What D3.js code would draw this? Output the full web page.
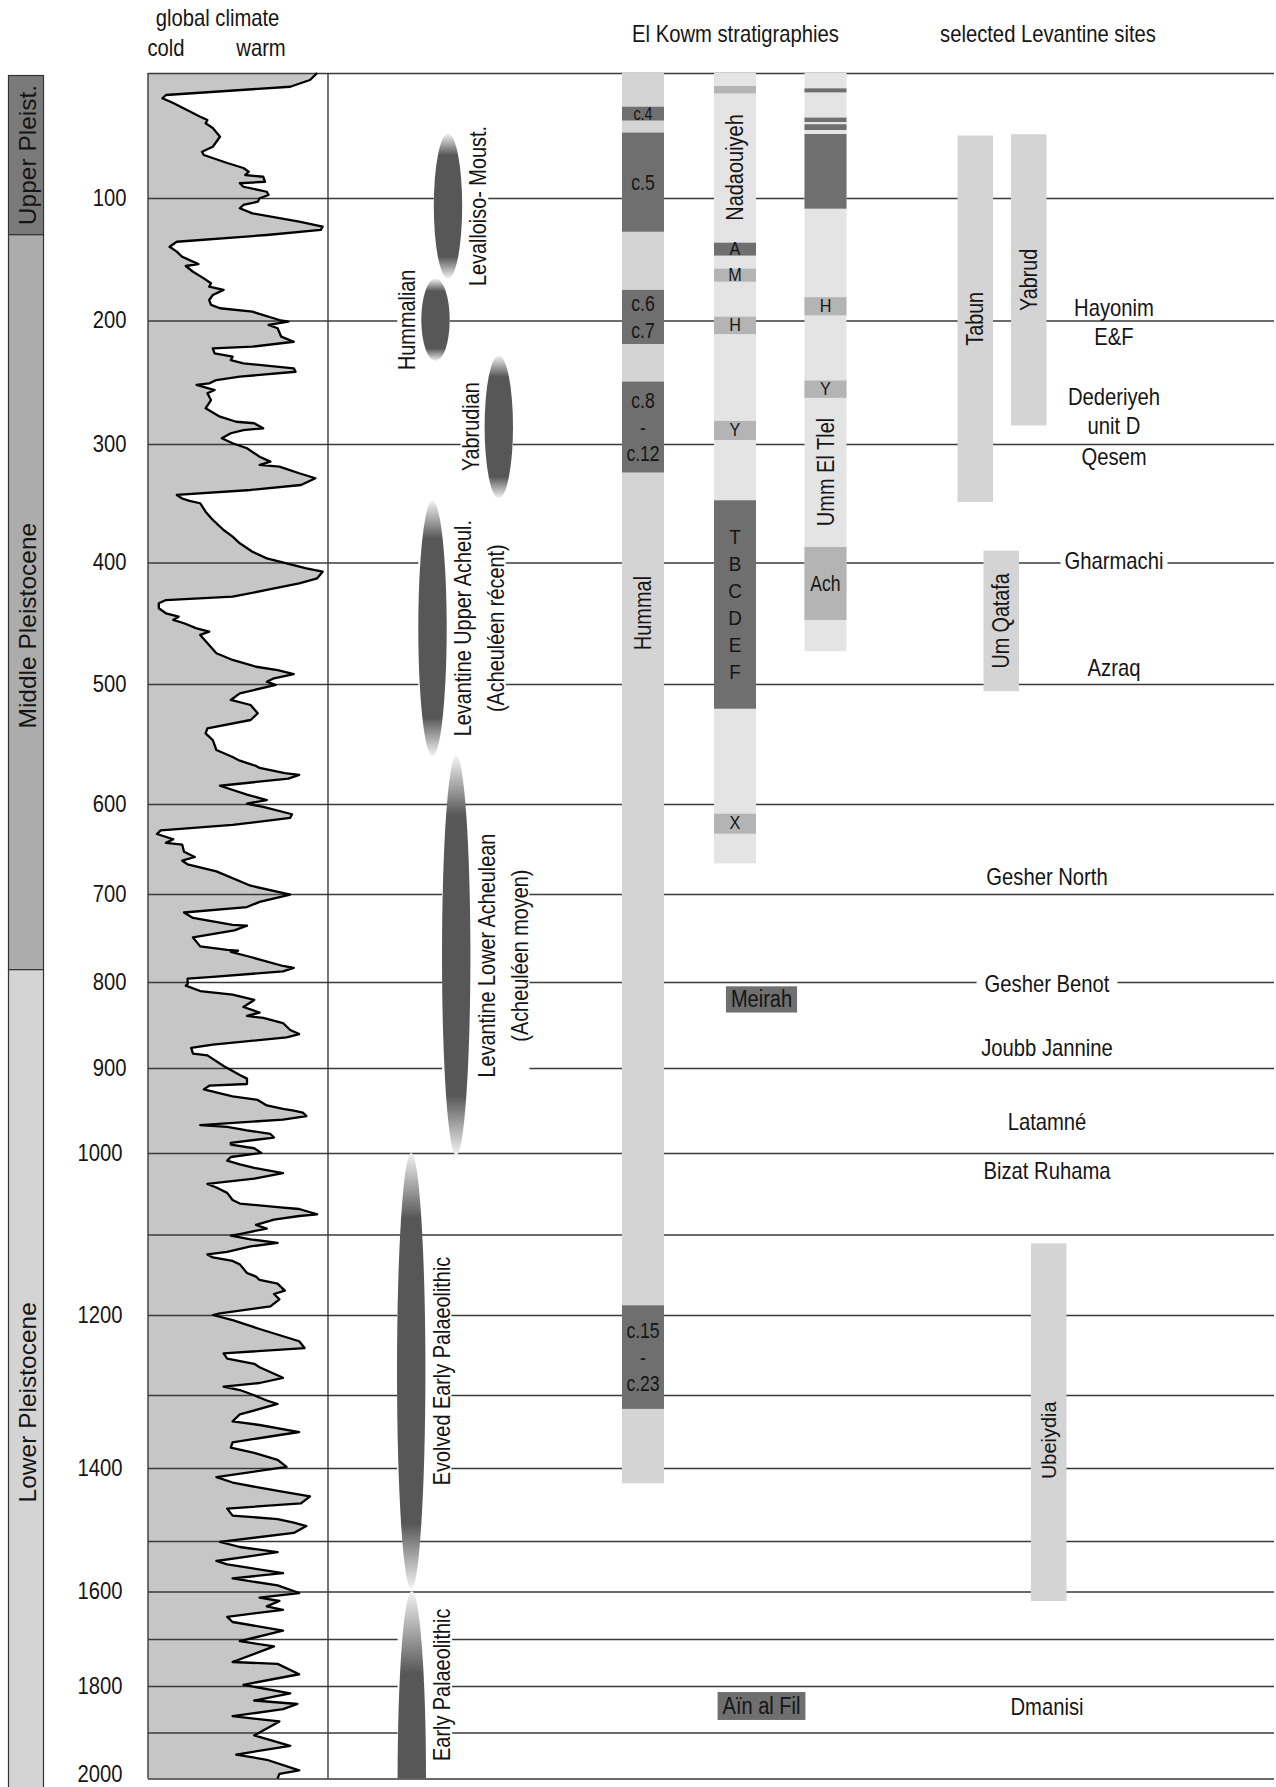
<!DOCTYPE html>
<html><head><meta charset="utf-8">
<script src="https://cdn.jsdelivr.net/npm/d3@7"></script>
<style>
body{margin:0;background:#fff}
svg{display:block;font-family:"Liberation Sans",Arial,sans-serif}
</style></head><body>
<svg id="chart" width="1276" height="1787"></svg>
<script>
// ================= DATA =================
const ageGrid = d3.range(0, 2001, 100);               // ka
const ageTickLabels = [100,200,300,400,500,600,700,800,900,1000,1200,1400,1600,1800,2000];

const headers = ["global climate", "cold", "warm", "El Kowm stratigraphies", "selected Levantine sites"];

const epochs = [
  {name: "Upper Pleist.",      from: 2,   to: 130,  labelAt: 65.6},
  {name: "Middle Pleistocene", from: 130, to: 786,  labelAt: 452},
  {name: "Lower Pleistocene",  from: 786, to: 2020, labelAt: 1310}
];

// [age ka, climate index 0=cold .. 100=warm]
const climateSeries = [
[0,94],[5.6,90],[11,79],[17.6,10],[20.2,8],[24,14],[35,29],[37.6,33],[40.2,32],[44,36],[51,40],[59,36],[63,30],[65.6,31],[72,44],[76,53],[79,56],[81.6,54],[83,64],[87,65],[88.2,51],[91,53],[95,66],[97.6,67],[100.2,62],[103,61],[105.7,53],[108.4,51],[112.5,58],[119.3,84],[123.4,97],[126,96],[130.2,66],[135.7,16],[139.8,12],[143.8,16],[148,19],[154,28],[155.5,21],[160.2,25],[165.6,31],[169.6,35],[172.4,34],[175,42],[179.2,36],[183.3,34],[187.3,35],[190,40],[192.8,58],[199.6,73],[201,78],[203.6,67],[206.3,72],[213.1,74],[217.2,81],[221.2,58],[222.5,36],[226.6,37],[229.3,47],[232,46],[234.7,53],[238.7,81],[241.5,82],[245.5,51],[248.2,38],[250.9,34],[252.2,27],[256.3,37],[258.9,33],[264.4,35],[271.1,32],[277.9,40],[282,49],[283.2,59],[287.3,64],[288.7,53],[291.3,46],[295.4,41],[299.4,47],[303.6,55],[310.7,62],[314.9,68],[317.7,62],[319.1,73],[324.7,84],[328.9,93],[334.6,85],[338.8,57],[343,16],[346,19],[348,23],[350,29],[357.1,32],[364.1,36],[372.6,42],[378.2,47],[383.8,51],[390.9,58],[396.5,66],[400.7,77],[404.8,88],[407.6,97],[413,94],[417.1,84],[422.6,66],[428.1,47],[430.9,10],[433.6,6],[437.7,6],[441.8,10],[444.6,17],[447.3,14],[450,20],[454.2,27],[456.9,34],[459.6,29],[474.7,38],[480.2,47],[485.8,60],[488.5,72],[491.8,81],[495.3,70],[498.1,66],[500.8,71],[507.8,51],[513.3,46],[517.5,57],[524.4,61],[530,57],[536.9,33],[541.1,32],[546.7,36],[555,38],[560.8,47],[563.9,51],[568.3,60],[569.9,62],[574.3,76],[575.8,84],[578.8,78],[584.8,40],[592.2,55],[596.7,66],[599.7,55],[603.3,64],[611.4,80],[615.4,79],[623.3,47],[629.3,7],[633.3,5],[639.2,14],[643.2,10],[645.1,19],[653.1,20],[658.9,26],[663,19],[667,22],[674.9,38],[690.8,57],[700.7,79],[708.9,62],[714.8,55],[721,20],[727.2,25],[735.2,47],[736,55],[741.4,48],[749.4,25],[759.5,29],[763.6,44],[764.5,50],[765.7,46],[771.6,57],[781.8,75],[784,81],[788,75],[794.1,36],[796.1,22],[802.3,22],[804.3,21],[810.5,29],[814.7,47],[820.9,59],[829.1,53],[835.5,62],[839.5,55],[841.7,64],[847.7,75],[855.8,79],[860.5,84],[864.5,77],[872.8,36],[876.7,24],[883.3,25],[885.3,33],[897.7,42],[908.2,51],[912.5,55],[918.8,55],[920.8,34],[925.1,31],[933.4,47],[937.6,61],[944,66],[948.2,75],[950.2,81],[952.4,86],[956.5,88],[960.7,75],[967.1,29],[969.2,44],[973.4,55],[977.6,68],[981.8,70],[988.1,46],[990.1,46],[994.4,59],[999.9,63],[1004.9,46],[1009.4,44],[1013.9,51],[1018.3,59],[1024.8,75],[1031.4,59],[1038,33],[1042.3,38],[1048.9,44],[1057.6,47],[1062,51],[1066.3,72],[1068.7,84],[1075.2,94],[1077.3,84],[1081.7,70],[1088.3,60],[1092.8,66],[1099.4,51],[1101.5,46],[1106,57],[1110.4,72],[1114.8,57],[1121.5,44],[1124.8,33],[1128.4,36],[1132.9,47],[1137.1,51],[1147.8,55],[1152.3,60],[1156.5,62],[1161,72],[1169.7,76],[1173.9,70],[1180.5,73],[1189.2,68],[1197.9,40],[1200,36],[1206.5,47],[1217.5,62],[1232.8,84],[1241.3,87],[1248,42],[1254.5,44],[1261,59],[1265.4,62],[1278.5,75],[1285,62],[1289.4,42],[1293.8,51],[1300.3,59],[1307.5,66],[1312.3,72],[1326.6,51],[1336.2,47],[1341.1,62],[1350.7,84],[1364.8,47],[1372.1,46],[1379.2,59],[1388.8,72],[1398.4,77],[1412.6,38],[1419.9,47],[1427,62],[1431.8,73],[1438.9,90],[1448.5,85],[1455.6,44],[1465.2,47],[1469.9,72],[1474.8,81],[1479.5,88],[1489,81],[1501.6,40],[1511.9,51],[1522.2,72],[1539.6,38],[1546.3,44],[1563.8,75],[1574.1,47],[1588,72],[1603.2,84],[1612.8,62],[1620,73],[1631.2,66],[1638.5,75],[1653.3,44],[1664.2,47],[1682.5,75],[1704.7,51],[1715.7,70],[1748.9,47],[1753,72],[1775,84],[1797.4,53],[1816.1,79],[1831.2,59],[1838.7,83],[1849.9,75],[1864.9,47],[1876.1,73],[1906.3,59],[1928.9,79],[1948,49],[1959.3,66],[1982.2,84],[1989.8,73],[2000,72]
];

const industries = [
  {lines: ["Levalloiso- Moust."], from: 48.4, to: 165.8},
  {lines: ["Hummalian"], from: 165.8, to: 232.8},
  {lines: ["Yabrudian"], from: 228.3, to: 345.7},
  {lines: ["Levantine Upper Acheul.", "(Acheuléen récent)"], from: 347.6, to: 560},
  {lines: ["Levantine Lower Acheulean", "(Acheuléen moyen)"], from: 559.8, to: 1003},
  {lines: ["Evolved Early Palaeolithic"], from: 1000, to: 1595},
  {lines: ["Early Palaeolithic"], from: 1599, to: 2000, open: true}
];

const kowmColumns = [
  {name: "Hummal",      from: 0, to: 1421, labelAt: 441.6},
  {name: "Nadaouiyeh",  from: 0, to: 666,  labelAt: 75.6},
  {name: "Umm El Tlel", from: 0, to: 473,  labelAt: 323.6}
];

const kowmBands = [
  {col: "Hummal", from: 27,    to: 38,    tone: "dark", text: ["c.4"]},
  {col: "Hummal", from: 47.7,  to: 127.5, tone: "dark", text: ["c.5"]},
  {col: "Hummal", from: 175,   to: 219,   tone: "dark", text: ["c.6", "c.7"]},
  {col: "Hummal", from: 249.5, to: 324,   tone: "dark", text: ["c.8", "-", "c.12"]},
  {col: "Hummal", from: 1188,  to: 1319,  tone: "dark", text: ["c.15", "-", "c.23"]},
  {col: "Nadaouiyeh", from: 10.4,  to: 16.3,  tone: "mid",  text: []},
  {col: "Nadaouiyeh", from: 136.5, to: 147,   tone: "dark", text: ["A"]},
  {col: "Nadaouiyeh", from: 157.7, to: 168.3, tone: "mid",  text: ["M"]},
  {col: "Nadaouiyeh", from: 196.9, to: 211,   tone: "mid",  text: ["H"]},
  {col: "Nadaouiyeh", from: 281.3, to: 296.8, tone: "mid",  text: ["Y"]},
  {col: "Nadaouiyeh", from: 347.5, to: 520.6, tone: "dark", text: ["T", "B", "C", "D", "E", "F"]},
  {col: "Nadaouiyeh", from: 610.8, to: 633,   tone: "mid",  text: ["X"]},
  {col: "Umm El Tlel", from: 12.3,  to: 15.5,  tone: "dark", text: []},
  {col: "Umm El Tlel", from: 35.7,  to: 39.2,  tone: "dark", text: []},
  {col: "Umm El Tlel", from: 41,    to: 45.6,  tone: "dark", text: []},
  {col: "Umm El Tlel", from: 48.8,  to: 108.7, tone: "dark", text: []},
  {col: "Umm El Tlel", from: 181,   to: 195.8, tone: "mid",  text: ["H"]},
  {col: "Umm El Tlel", from: 248.6, to: 262.6, tone: "mid",  text: ["Y"]},
  {col: "Umm El Tlel", from: 386.9, to: 447.3, tone: "mid",  text: ["Ach"]}
];

const kowmBoxes = [
  {name: "Meirah",     from: 805,  to: 835.5},
  {name: "Aïn al Fil", from: 1813, to: 1873}
];

const siteBars = [
  {name: "Tabun",     from: 50,   to: 349},
  {name: "Yabrud",    from: 49,   to: 285},
  {name: "Um Qatafa", from: 390,  to: 506},
  {name: "Ubeiydia",  from: 1111, to: 1620, labelAt: 1362}
];

const siteLabels = [
  {lines: ["Hayonim", "E&F"],        age: 196},
  {lines: ["Dederiyeh", "unit D"],   age: 268.4},
  {lines: ["Qesem"],                 age: 318.1},
  {lines: ["Gharmachi"],             age: 405.2},
  {lines: ["Azraq"],                 age: 493.4},
  {lines: ["Gesher North"],          age: 689.7},
  {lines: ["Gesher Benot"],          age: 811.6},
  {lines: ["Joubb Jannine"],         age: 886},
  {lines: ["Latamné"],               age: 972.9},
  {lines: ["Bizat Ruhama"],          age: 1032.5},
  {lines: ["Dmanisi"],               age: 1861.3}
];

// ================= LAYOUT / STYLE =================
const L = {
  yRange: [73,198,320.5,444,562.5,684,804,894,982,1068,1153,1234.5,1315,1395,1468,1541,1591.5,1639,1686,1732.5,1778.5],
  gridX: [148, 1274],
  climX: [148, 328],
  epochX: 8.5, epochW: 35,
  epochFill: ["#7a7a7a", "#acacac", "#d4d4d4"],
  kowmX: {"Hummal": 622, "Nadaouiyeh": 714, "Umm El Tlel": 804.5}, kowmW: 42,
  kowmBase: {"Hummal": "#d4d4d4", "Nadaouiyeh": "#e4e4e4", "Umm El Tlel": "#e4e4e4"},
  tone: {dark: "#6f6f6f", mid: "#b4b4b4"},
  boxCX: 761.5,
  siteBarX: {"Tabun": 957.5, "Yabrud": 1011, "Um Qatafa": 983.5, "Ubeiydia": 1031}, siteBarW: 35.5,
  siteBarFill: "#d4d4d4",
  siteLabelX: age => age < 600 ? 1114 : 1047,
  siteGap: new Set(["Gharmachi", "Gesher Benot"]),
  industry: [
    {cx: 448,   side: "right"},
    {cx: 435.5, side: "left"},
    {cx: 498.8, side: "left"},
    {cx: 432.5, side: "right"},
    {cx: 456.2, side: "right"},
    {cx: 411.2, side: "right"},
    {cx: 411.8, side: "right"}
  ],
  ellRx: 14.2,
  lineColor: "#3a3a3a",
  text: "#151515"
};

// ================= DRAW =================
const svg = d3.select("#chart");
const y = d3.scaleLinear().domain(ageGrid).range(L.yRange);
const cx = d3.scaleLinear().domain([0, 100]).range(L.climX);

const defs = svg.append("defs");
function grad(id, stops) {
  const g = defs.append("linearGradient").attr("id", id)
    .attr("x1", 0).attr("y1", 0).attr("x2", 0).attr("y2", 1);
  stops.forEach(([o, c]) => g.append("stop").attr("offset", o).attr("stop-color", c));
}
grad("ell", [[0, "#f3f3f3"], [0.15, "#575757"], [0.85, "#575757"], [1, "#f3f3f3"]]);
grad("ellOpen", [[0, "#f3f3f3"], [0.22, "#575757"], [1, "#575757"]]);
defs.append("clipPath").attr("id", "clipBottom").append("rect")
  .attr("x", 0).attr("y", 0).attr("width", 1276).attr("height", y(2000));

function addText(parent, str, x, yy, o) {
  const sx = o.sx || 1;
  return parent.append("text")
    .attr("transform", `translate(${x},${yy})` + (o.rotate ? " rotate(-90)" : "") + ` scale(${sx},1)`)
    .attr("text-anchor", o.anchor || "middle")
    .attr("dominant-baseline", o.baseline || "alphabetic")
    .attr("font-size", o.size)
    .attr("fill", o.fill || L.text)
    .text(str);
}

// epochs
const gEp = svg.append("g");
epochs.forEach((e, i) => {
  gEp.append("rect").attr("x", L.epochX).attr("width", L.epochW)
    .attr("y", y(e.from)).attr("height", y(e.to) - y(e.from))
    .attr("fill", L.epochFill[i]).attr("stroke", "#333").attr("stroke-width", 1.2);
});

// climate fill
svg.append("path").datum(climateSeries)
  .attr("fill", "#c6c6c6")
  .attr("d", d3.area().x0(cx(0)).x1(d => cx(d[1])).y(d => y(d[0])));

// grid lines through axis
const gGrid = svg.append("g").attr("transform", `translate(${L.gridX[0]},0)`)
  .call(d3.axisRight(y).tickValues(ageGrid).tickSize(L.gridX[1] - L.gridX[0]).tickFormat(""));
gGrid.select(".domain").remove();
gGrid.selectAll("line").attr("stroke", L.lineColor).attr("stroke-width", 1.4);

// climate box verticals
[L.climX[0], L.climX[1]].forEach(xv => {
  svg.append("line").attr("x1", xv).attr("x2", xv).attr("y1", y(0)).attr("y2", y(2000))
    .attr("stroke", L.lineColor).attr("stroke-width", 1.4);
});

// climate curve
svg.append("path").datum(climateSeries)
  .attr("fill", "none").attr("stroke", "#000").attr("stroke-width", 2.3).attr("stroke-linejoin", "round")
  .attr("d", d3.line().x(d => cx(d[1])).y(d => y(d[0])));

// tick labels (axis)
const gTicks = svg.append("g").attr("transform", "translate(126.5,0)")
  .call(d3.axisLeft(y).tickValues(ageTickLabels).tickSize(0).tickPadding(0).tickFormat(d3.format("d")));
gTicks.attr("font-size", null).attr("font-family", null);
gTicks.select(".domain").remove();
gTicks.selectAll("text")
  .attr("x", d => d >= 1000 ? -4.5 : 0)
  .attr("dy", d => d === 2000 ? "0.12em" : "0.32em")
  .attr("font-size", 23).attr("fill", L.text)
  .attr("transform", "scale(0.88,1)");

// layers
const gBg = svg.append("g");
const gMarks = svg.append("g");
const gText = svg.append("g");

// epoch labels
epochs.forEach(e => {
  addText(gText, e.name, L.epochX + L.epochW / 2 + 1, y(e.labelAt), {rotate: true, baseline: "central", size: 24.5});
});

// headers
addText(gText, headers[0], 217.5, 26, {size: 23, sx: 0.88});
addText(gText, headers[1], 166, 56, {size: 23, sx: 0.88});
addText(gText, headers[2], 261, 56, {size: 23, sx: 0.88});
addText(gText, headers[3], 735.5, 42, {size: 23, sx: 0.88});
addText(gText, headers[4], 1048, 42, {size: 23, sx: 0.88});

// industries
industries.forEach((ind, i) => {
  const lay = L.industry[i];
  const y0 = y(ind.from), y1 = y(ind.to);
  const mid = ind.open ? (y0 + y(2000)) / 2 : (y0 + y1) / 2;
  if (ind.open) {
    gMarks.append("ellipse").attr("cx", lay.cx).attr("cy", y1).attr("rx", L.ellRx).attr("ry", y1 - y0)
      .attr("fill", "url(#ellOpen)").attr("clip-path", "url(#clipBottom)");
  } else {
    gMarks.append("ellipse").attr("cx", lay.cx).attr("cy", (y0 + y1) / 2).attr("rx", L.ellRx).attr("ry", (y1 - y0) / 2)
      .attr("fill", "url(#ell)");
  }
  const n = ind.lines.length;
  let minX = lay.cx - L.ellRx, maxX = lay.cx + L.ellRx, top = Infinity, bot = -Infinity;
  ind.lines.forEach((ln, j) => {
    const lx = lay.side === "right"
      ? lay.cx + L.ellRx + 16 + j * 33
      : lay.cx - L.ellRx - 14 - (n - 1 - j) * 33;
    const t = addText(gText, ln, lx, mid, {rotate: true, baseline: "central", size: 23.5, sx: 0.845});
    const len = t.node().getComputedTextLength() * 0.845;
    minX = Math.min(minX, lx - 10); maxX = Math.max(maxX, lx + 10);
    top = Math.min(top, mid - len / 2 - 3); bot = Math.max(bot, mid + len / 2 + 3);
  });
  gBg.append("rect").attr("x", minX).attr("y", top).attr("width", maxX - minX).attr("height", bot - top)
    .attr("fill", "#fff");
});

// El Kowm columns
kowmColumns.forEach(c => {
  const x0 = L.kowmX[c.name];
  gMarks.append("rect").attr("x", x0).attr("width", L.kowmW)
    .attr("y", y(c.from)).attr("height", y(c.to) - y(c.from)).attr("fill", L.kowmBase[c.name]);
});
kowmBands.forEach(b => {
  const x0 = L.kowmX[b.col];
  const y0 = y(b.from), y1 = y(b.to);
  gMarks.append("rect").attr("x", x0).attr("width", L.kowmW)
    .attr("y", y0).attr("height", y1 - y0).attr("fill", L.tone[b.tone]);
  const n = b.text.length;
  const small = (y1 - y0) < 25;
  const spacing = n > 3 ? 27 : 26.5;
  b.text.forEach((s, j) => {
    const yy = (y0 + y1) / 2 + (j - (n - 1) / 2) * spacing;
    const single = s.length === 1 && s !== "-";
    addText(gText, s, x0 + L.kowmW / 2, yy, {
      baseline: "central", size: small ? 18 : (n > 3 ? 21 : 22), sx: single ? 0.9 : 0.8
    });
  });
});
kowmColumns.forEach(c => {
  addText(gText, c.name, L.kowmX[c.name] + L.kowmW / 2, y(c.labelAt),
    {rotate: true, baseline: "central", size: 23.5, sx: 0.85});
});

// Meirah / Aïn al Fil boxes
kowmBoxes.forEach(b => {
  const y0 = y(b.from), y1 = y(b.to);
  const t = addText(gText, b.name, L.boxCX, (y0 + y1) / 2, {baseline: "central", size: 23, sx: 0.87});
  const w = t.node().getComputedTextLength() * 0.87 + 10;
  gMarks.append("rect").attr("x", L.boxCX - w / 2).attr("width", w)
    .attr("y", y0).attr("height", y1 - y0).attr("fill", L.tone.dark);
});

// site bars
siteBars.forEach(s => {
  const x0 = L.siteBarX[s.name];
  const y0 = y(s.from), y1 = y(s.to);
  gMarks.append("rect").attr("x", x0).attr("width", L.siteBarW)
    .attr("y", y0).attr("height", y1 - y0).attr("fill", L.siteBarFill);
  const ly = s.labelAt !== undefined ? y(s.labelAt) : (y0 + y1) / 2;
  const small = s.name === "Ubeiydia";
  addText(gText, s.name, x0 + L.siteBarW / 2, ly,
    {rotate: true, baseline: "central", size: small ? 21 : 23.5, sx: small ? 0.95 : 0.84});
});

// site labels
siteLabels.forEach(s => {
  const x = L.siteLabelX(s.age);
  const base = y(s.age);
  s.lines.forEach((ln, j) => {
    const t = addText(gText, ln, x, base + j * 29.5, {size: 23, sx: 0.88});
    if (L.siteGap.has(ln)) {
      const w = t.node().getComputedTextLength() * 0.88;
      const pad = ln === "Gesher Benot" ? 8 : 4;
      gBg.append("rect").attr("x", x - w / 2 - pad).attr("width", w + 2 * pad)
        .attr("y", base - 18).attr("height", 22).attr("fill", "#fff");
    }
  });
});
</script>
</body></html>
